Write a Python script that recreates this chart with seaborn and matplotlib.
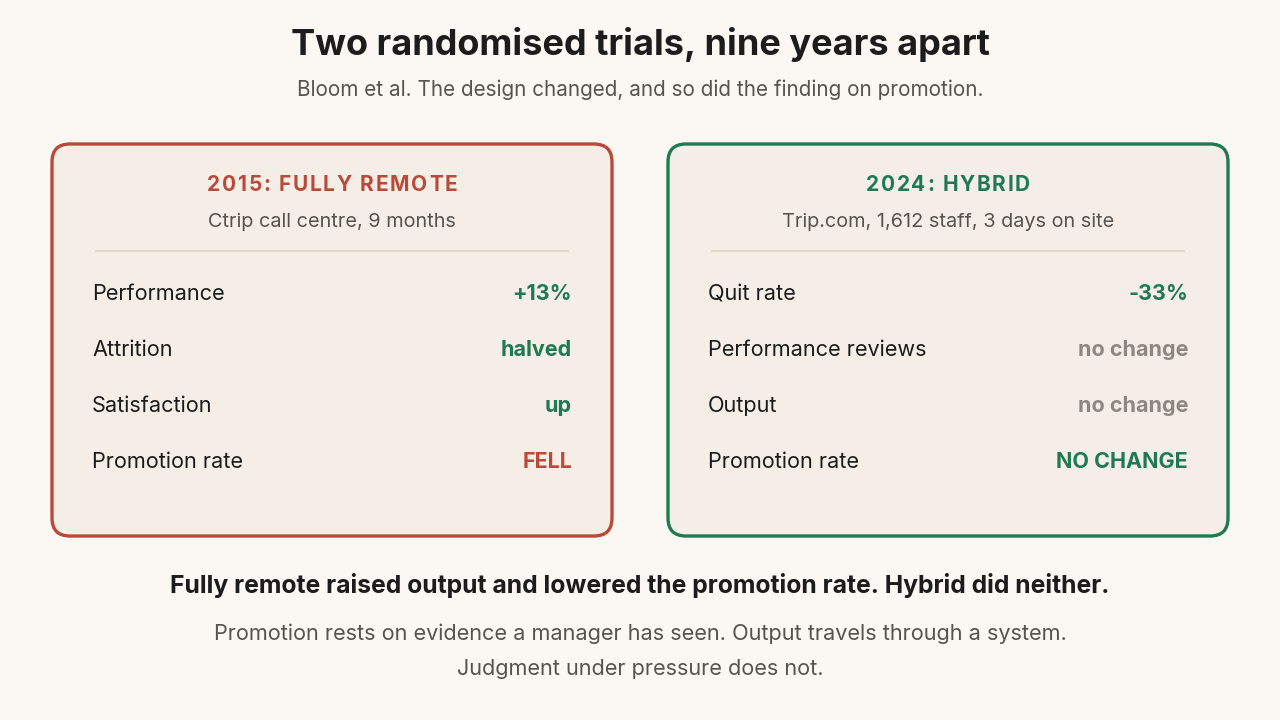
import matplotlib
matplotlib.use("Agg")
import matplotlib.pyplot as plt
from matplotlib.patches import FancyBboxPatch
import seaborn as sns

sns.set_theme(style="white")
plt.rcParams['font.family'] = ['Inter', 'DejaVu Sans']

# Content
title = "Two randomised trials, nine years apart"
subtitle = "Bloom et al. The design changed, and so did the finding on promotion."

card_titles = ["2015: FULLY REMOTE", "2024: HYBRID"]
card_subtitles = ["Ctrip call centre, 9 months", "Trip.com, 1,612 staff, 3 days on site"]
left_labels = ["Performance", "Attrition", "Satisfaction", "Promotion rate"]
left_values = ["+13%", "halved", "up", "FELL"]
left_kinds = ["good", "good", "good", "bad"]
right_labels = ["Quit rate", "Performance reviews", "Output", "Promotion rate"]
right_values = ["-33%", "no change", "no change", "NO CHANGE"]
right_kinds = ["good", "neutral", "neutral", "good"]

headline = "Fully remote raised output and lowered the promotion rate. Hybrid did neither."
body_lines = ["Promotion rests on evidence a manager has seen. Output travels through a system.",
              "Judgment under pressure does not."]

BG = "#fbf8f3"
CARD = "#f4eee6"
RED = "#b94a3a"
GREEN = "#1f7a4f"
GREY = "#8d8780"
DARK = "#1c1c1c"
MUTED = "#57534e"
RULE = "#e2d9cb"
kind_color = {"good": GREEN, "bad": RED, "neutral": GREY}

fig = plt.figure(figsize=(12.8, 7.2), dpi=100, facecolor=BG)
ax = fig.add_axes([0, 0, 1, 1])
ax.set_xlim(0, 1280)
ax.set_ylim(720, 0)
ax.axis("off")
ax.set_facecolor(BG)
renderer = fig.canvas.get_renderer()


def tracked_text(cx, y, s, spacing, **kw):
    # matplotlib has no letter-spacing, so place each character by hand
    def width(part):
        if not part:
            return 0.0
        t = ax.text(0, 0, part, **kw)
        w = t.get_window_extent(renderer).width
        t.remove()
        return w
    total = width(s) + spacing * (len(s) - 1)
    x = cx - total / 2
    for i, ch in enumerate(s):
        ax.text(x + width(s[:i]) + i * spacing, y, ch, ha="left", va="center", **kw)


ax.text(640, 44, title, ha="center", va="center", fontsize=26, fontweight="bold", color=DARK)
ax.text(640, 90, subtitle, ha="center", va="center", fontsize=14.9, color=MUTED)

cards = [
    (52, RED, card_titles[0], card_subtitles[0], left_labels, left_values, left_kinds),
    (668, GREEN, card_titles[1], card_subtitles[1], right_labels, right_values, right_kinds),
]
for x0, edge, ct, cs, labels, values, kinds in cards:
    w, h, y0 = 560, 392, 144
    box = FancyBboxPatch((x0, y0), w, h, boxstyle="round,pad=0,rounding_size=18",
                         facecolor=CARD, edgecolor=edge, linewidth=2.4)
    ax.add_patch(box)
    cx = x0 + w / 2
    tracked_text(cx, 185, ct, 1.7, fontsize=15, fontweight="bold", color=edge)
    ax.text(cx, 222, cs, ha="center", va="center", fontsize=14.3, color=MUTED)
    ax.plot([x0 + 44, x0 + w - 44], [251, 251], color=RULE, lw=1.5)
    for i, (lab, val, kind) in enumerate(zip(labels, values, kinds)):
        y = 294 + i * 56
        ax.text(x0 + 40, y, lab, ha="left", va="center", fontsize=15.6, color=DARK)
        ax.text(x0 + w - 40, y, val, ha="right", va="center", fontsize=15.5,
                fontweight="bold", color=kind_color[kind])

ax.text(640, 585, headline, ha="center", va="center", fontsize=17.8, fontweight="bold", color=DARK)
for i, line in enumerate(body_lines):
    ax.text(640, 634 + i * 35, line, ha="center", va="center", fontsize=15.6, color=MUTED)

fig.savefig("out.png", dpi=100, facecolor=BG)
